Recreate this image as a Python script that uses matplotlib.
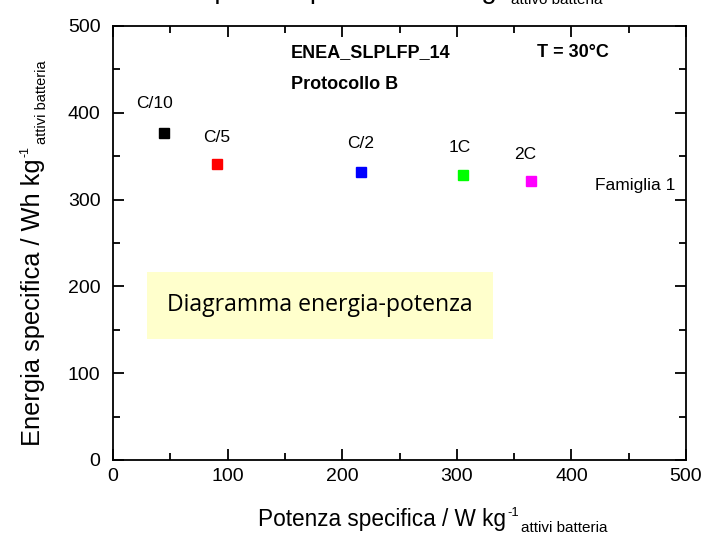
import matplotlib
matplotlib.use("Agg")
import matplotlib.pyplot as plt
from matplotlib.patches import Rectangle
from matplotlib.transforms import IdentityTransform

plt.rcParams["font.family"] = ["Liberation Sans", "DejaVu Sans"]

W, H = 704, 542

# data
rates = ["C/10", "C/5", "C/2", "1C", "2C"]
power = [44.6, 90.6, 216.0, 305.5, 364.8]      # W kg-1
energy = [376.8, 341.4, 332.3, 328.9, 321.7]   # Wh kg-1
colors = ["#000000", "#FF0000", "#0000FF", "#00FF00", "#FF00FF"]
label_dx = [-8.0, 0.0, 0.0, -2.5, -5.0]
label_dy = [34, 30, 32, 31, 30]

fig = plt.figure(figsize=(W / 100, H / 100), dpi=100)
ax = fig.add_axes([113 / W, 1 - 460 / H, 573 / W, 434 / H])

for x, y, c in zip(power, energy, colors):
    ax.plot(x, y, "s", color=c, ms=7.4, mec=c, zorder=3)
for x, y, lab, dx, dy in zip(power, energy, rates, label_dx, label_dy):
    ax.text(x + dx, y + dy, lab, fontsize=12.5, ha="center", va="center")

ax.text(421, 316, "Famiglia 1", fontsize=12.5, ha="left", va="center")
ax.text(155, 469, "ENEA_SLPLFP_14", fontsize=13, fontweight="bold", va="center")
ax.text(155, 433, "Protocollo B", fontsize=13, fontweight="bold", va="center")
ax.text(370, 469, "T = 30°C", fontsize=13, fontweight="bold", va="center")

# yellow note box
ax.add_patch(Rectangle((30, 139.5), 301.5, 77, fc="#FFFFCC", ec="none", zorder=1))
ax.text(180.5, 178, "Diagramma energia-potenza", fontsize=16.6,
        family=["Open Sans", "DejaVu Sans"], ha="center", va="center", zorder=2)

ax.set_xlim(0, 500)
ax.set_ylim(0, 500)
ax.set_xticks(range(0, 501, 100))
ax.set_yticks(range(0, 501, 100))
ax.set_xticks(range(50, 500, 100), minor=True)
ax.set_yticks(range(50, 500, 100), minor=True)
ax.tick_params(which="both", direction="in", top=True, right=True, width=1.3,
               labelsize=14)
ax.tick_params(axis="x", pad=6)
ax.tick_params(axis="y", pad=9)
ax.tick_params(which="major", length=8)
ax.tick_params(which="minor", length=5)
for s in ax.spines.values():
    s.set_linewidth(1.3)

renderer = fig.canvas.get_renderer()
px = IdentityTransform()


def unit_label(x0, y0, main, sub, size, subsize, vertical=False):
    """main text + small '-1' superscript + subscript, coords in px from top-left"""
    rot = 90 if vertical else 0
    kw = dict(transform=px, rotation=rot, rotation_mode="anchor",
              ha="left", va="baseline")
    t = fig.text(x0, H - y0, main, fontsize=size, **kw)
    bb = t.get_window_extent(renderer)
    L = bb.height if vertical else bb.width
    supsize = subsize * 0.85
    up = size * 0.62
    down = subsize * 0.55
    if vertical:
        s1 = fig.text(x0 - up, H - y0 + L + 1, "-1", fontsize=supsize, **kw)
        L2 = s1.get_window_extent(renderer).height
        fig.text(x0 + down, H - y0 + L + L2 + 3, sub, fontsize=subsize, **kw)
    else:
        s1 = fig.text(x0 + L + 1, H - y0 + up, "-1", fontsize=supsize, **kw)
        L2 = s1.get_window_extent(renderer).width
        fig.text(x0 + L + L2 + 3, H - y0 - down, sub, fontsize=subsize, **kw)


unit_label(258, 526, "Potenza specifica / W kg", "attivi batteria", 16.3, 11)
unit_label(40, 446, "Energia specifica / Wh kg", "attivi batteria", 18.3, 10.5,
           vertical=True)
# title of the chart above, cut off at the top edge
unit_label(179, -2, "Capacità specifica / Ah kg", "attivo batteria", 20, 11)

fig.savefig("out.png", dpi=100)
